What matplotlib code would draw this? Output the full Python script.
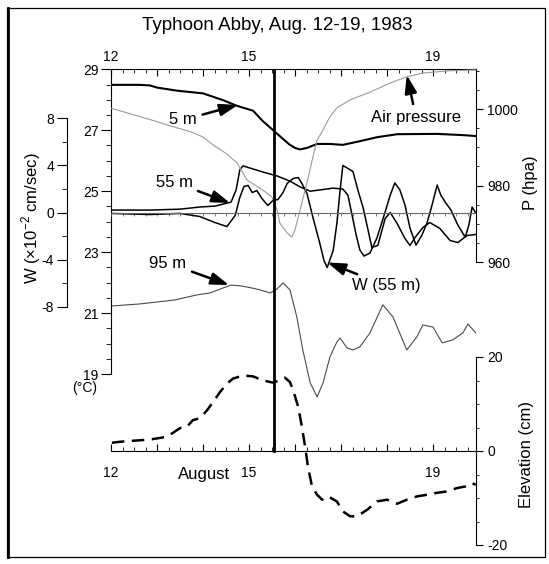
import numpy as np
import matplotlib.pyplot as plt
from matplotlib.patches import Rectangle
from matplotlib.lines import Line2D
from matplotlib.ticker import FixedLocator, FuncFormatter

plt.rcParams['font.family'] = 'Liberation Sans'
plt.rcParams['mathtext.fontset'] = 'custom'
plt.rcParams['mathtext.rm'] = 'Liberation Sans'
plt.rcParams['font.size'] = 10

# ---- data (day of August 1983) ----
t5_day = [12.00, 12.60, 12.85, 13.00, 13.43, 14.00, 14.43, 14.74, 15.09, 15.30, 15.57,
          15.75, 15.89, 16.00, 16.11, 16.26, 16.48, 16.76, 17.04, 17.35, 17.78, 18.22,
          19.09, 19.65, 19.93]
t5 = [28.49, 28.49, 28.47, 28.40, 28.30, 28.21, 27.99, 27.80, 27.64, 27.30, 26.94,
      26.70, 26.52, 26.42, 26.37, 26.42, 26.55, 26.55, 26.52, 26.62, 26.77, 26.87,
      26.88, 26.84, 26.81]

t55_day = [12.00, 12.85, 13.50, 13.93, 14.26, 14.61, 14.72, 14.80, 14.87, 15.02, 15.30,
           15.61, 15.89, 16.11, 16.33, 16.54, 16.83, 17.04, 17.15, 17.24, 17.33, 17.41,
           17.50, 17.63, 17.78, 17.96, 18.07, 18.17, 18.28, 18.39, 18.50, 18.63, 18.76,
           18.87, 18.98, 19.09, 19.17, 19.28, 19.39, 19.54, 19.70, 19.78, 19.85, 19.93]
t55 = [24.38, 24.38, 24.41, 24.48, 24.51, 24.64, 25.04, 25.70, 25.83, 25.76, 25.63,
       25.50, 25.33, 25.14, 25.00, 25.04, 25.10, 25.07, 24.87, 24.22, 23.56, 23.07,
       22.87, 22.97, 23.46, 24.32, 24.87, 25.27, 25.04, 24.55, 23.79, 23.23, 23.56,
       23.96, 24.55, 25.20, 24.87, 24.61, 24.38, 23.89, 23.49, 23.89, 24.48, 24.28]

t95_day = [12.00, 12.63, 13.39, 13.85, 14.15, 14.61, 14.83, 15.07, 15.24, 15.46, 15.61,
           15.74, 15.89, 16.04, 16.17, 16.33, 16.48, 16.61, 16.76, 16.91, 16.98, 17.13,
           17.26, 17.41, 17.63, 17.91, 18.13, 18.43, 18.65, 18.78, 19.00, 19.20, 19.43,
           19.65, 19.76, 19.93]
t95 = [21.23, 21.30, 21.43, 21.59, 21.66, 21.92, 21.89, 21.82, 21.76, 21.66, 21.79,
       21.99, 21.76, 20.87, 19.79, 18.71, 18.25, 18.71, 19.56, 20.05, 20.18, 19.86,
       19.79, 19.89, 20.35, 21.27, 20.87, 19.79, 20.22, 20.61, 20.54, 20.02, 20.12,
       20.35, 20.64, 20.35]

w_day = [12.00, 12.85, 13.50, 13.93, 14.26, 14.52, 14.70, 14.80, 14.89, 14.98, 15.07,
         15.17, 15.28, 15.41, 15.52, 15.63, 15.74, 15.83, 15.96, 16.07, 16.15, 16.26,
         16.39, 16.54, 16.63, 16.70, 16.83, 16.91, 16.98, 17.04, 17.15, 17.26, 17.37,
         17.48, 17.59, 17.67, 17.80, 17.96, 18.07, 18.22, 18.39, 18.50, 18.61, 18.78,
         18.93, 19.15, 19.37, 19.54, 19.74, 19.93]
w55 = [-0.08, -0.17, -0.08, -0.34, -0.85, -1.19, -0.25, 1.27, 2.20, 2.29, 1.69,
       1.86, 1.19, 0.59, 1.02, 1.10, 1.69, 2.46, 2.88, 2.96, 2.46, 1.61,
       -0.42, -2.62, -4.06, -4.66, -3.22, -0.93, 1.86, 3.98, 3.73, 3.47, 1.86,
       0.42, -1.52, -2.96, -2.79, -0.51, 0.00, -0.93, -2.20, -2.79, -2.12, -1.27,
       -0.85, -1.35, -2.37, -2.54, -1.95, -1.86]

p_day = [12.00, 12.26, 12.60, 13.00, 13.40, 13.72, 14.00, 14.22, 14.50, 14.74, 14.96,
         15.30, 15.50, 15.61, 15.67, 15.83, 15.93, 16.00, 16.11, 16.26, 16.39, 16.48,
         16.61, 16.75, 16.91, 17.20, 17.63, 18.07, 18.43, 18.78, 19.37, 19.93]
pres = [1000.2, 999.3, 998.1, 996.7, 995.2, 994.1, 992.7, 990.6, 988.4, 985.9, 981.4,
        978.8, 977.0, 973.6, 970.2, 967.6, 966.5, 968.4, 973.6, 980.7, 987.5, 991.9,
        994.5, 997.8, 1000.3, 1002.4, 1004.4, 1006.8, 1008.4, 1009.4, 1010.0, 1010.2]

e_day = [12.02, 12.20, 12.48, 12.70, 12.91, 13.22, 13.50, 13.65, 13.78, 13.93, 14.09,
         14.22, 14.37, 14.52, 14.65, 14.87, 15.09, 15.30, 15.52, 15.67, 15.78, 15.89,
         15.96, 16.07, 16.15, 16.22, 16.24, 16.28, 16.37, 16.48, 16.59, 16.72, 16.91,
         17.04, 17.20, 17.35, 17.57, 17.78, 18.00, 18.22, 18.43, 18.65, 18.87, 19.09,
         19.30, 19.52, 19.70, 19.85, 19.93]
elev = [1.76, 1.97, 2.18, 2.33, 2.54, 3.03, 4.87, 5.15, 6.56, 6.98, 8.68,
        10.43, 12.55, 14.33, 15.39, 16.08, 15.87, 15.03, 14.54, 15.03, 15.60, 14.67,
        12.91, 9.38, 5.14, 0.91, -0.42, -3.30, -7.55, -9.31, -10.37, -9.67, -10.73,
        -12.84, -13.90, -13.90, -12.49, -10.73, -10.37, -11.22, -10.37, -9.67, -9.31, -8.89,
        -8.61, -7.89, -7.55, -6.84, -7.20]

passage_day = 15.55

# ---- layout (pixels of the 549x564 picture) ----
W, H = 549, 564
L, R, TOP, BOT = 111, 476, 69.3, 560
fig = plt.figure(figsize=(W / 100, H / 100), dpi=100)
rect = [L / W, 1 - BOT / H, (R - L) / W, (BOT - TOP) / H]


def lims(v1, p1, v2, p2):
    s = (v2 - v1) / (p2 - p1)
    return v1 + (BOT - p1) * s, v1 + (TOP - p1) * s


xs = 7 / 322
xlim = (12 + (L - 111) * xs, 12 + (R - 111) * xs)


def mk():
    a = fig.add_axes(rect)
    a.patch.set_visible(False)
    for s in a.spines.values():
        s.set_visible(False)
    a.set_xlim(xlim)
    a.tick_params(which='both', left=False, right=False, top=False, bottom=False,
                  labelleft=False, labelright=False, labeltop=False, labelbottom=False)
    return a


day_major = FixedLocator(range(12, 20))
day_minor = FixedLocator(np.arange(12, 19.94, 0.25))
day_fmt = FuncFormatter(lambda v, p: str(int(round(v))) if int(round(v)) in (12, 15, 19) else '')

# temperature
axT = mk()
axT.set_ylim(lims(29, 69.3, 19, 374))
axT.spines['left'].set_visible(True)
axT.spines['left'].set_bounds(19, 29)
axT.spines['top'].set_visible(True)
axT.yaxis.set_major_locator(FixedLocator(range(19, 30, 2)))
axT.yaxis.set_minor_locator(FixedLocator(np.arange(19, 29.01, 0.5)))
axT.tick_params(axis='y', which='both', left=True, labelleft=True, direction='out')
axT.tick_params(axis='y', which='major', length=7, labelsize=10, pad=2)
axT.tick_params(axis='y', which='minor', length=3.5)
axT.xaxis.set_major_locator(day_major)
axT.xaxis.set_minor_locator(day_minor)
axT.xaxis.set_major_formatter(day_fmt)
axT.tick_params(axis='x', which='both', top=True, labeltop=True, direction='in')
axT.tick_params(axis='x', which='major', length=5, labelsize=10, pad=4)
axT.tick_params(axis='x', which='minor', length=3)

# vertical velocity
axW = mk()
axW.set_ylim(lims(8, 118, -8, 307))
axW.spines['left'].set_visible(True)
axW.spines['left'].set_position(('axes', (66.7 - L) / (R - L)))
axW.spines['left'].set_bounds(-8, 8)
axW.yaxis.set_major_locator(FixedLocator([-8, -4, 0, 4, 8]))
axW.yaxis.set_minor_locator(FixedLocator([-6, -2, 2, 6]))
axW.yaxis.set_major_formatter(FuncFormatter(lambda v, p: '%d' % v))
axW.tick_params(axis='y', which='both', left=True, labelleft=True, direction='out')
axW.tick_params(axis='y', which='major', length=7, labelsize=10, pad=2)
axW.tick_params(axis='y', which='minor', length=3.5)
axW.spines['bottom'].set_visible(True)
axW.spines['bottom'].set_position(('data', 0))
axW.spines['bottom'].set_color('#666666')
axW.spines['bottom'].set_linewidth(0.8)
axW.xaxis.set_major_locator(day_minor)
axW.tick_params(axis='x', which='major', bottom=True, direction='out', length=2.5,
                width=0.6, color='#666666')

# air pressure
axP = mk()
plim = lims(1000, 109, 960, 262)
axP.set_ylim(plim)
axP.spines['right'].set_visible(True)
axP.spines['right'].set_bounds(960, plim[1])
axP.yaxis.set_major_locator(FixedLocator([960, 980, 1000]))
axP.yaxis.set_minor_locator(FixedLocator([965, 970, 975, 985, 990, 995, 1005, 1010]))
axP.tick_params(axis='y', which='both', right=True, labelright=True, direction='out')
axP.tick_params(axis='y', which='major', length=5, labelsize=10, pad=3)
axP.tick_params(axis='y', which='minor', length=2.5)

# sea level elevation
axE = mk()
elim = lims(0, 451, 20, 357)
axE.set_ylim(elim)
axE.spines['right'].set_visible(True)
axE.spines['right'].set_bounds(-20, 20)
axE.yaxis.set_major_locator(FixedLocator([-20, 0, 20]))
axE.yaxis.set_minor_locator(FixedLocator([-15, -10, -5, 5, 10, 15]))
axE.yaxis.set_major_formatter(FuncFormatter(lambda v, p: '%d' % v))
axE.tick_params(axis='y', which='both', right=True, labelright=True, direction='out')
axE.tick_params(axis='y', which='major', length=5, labelsize=10, pad=3)
axE.tick_params(axis='y', which='minor', length=2.5)
axE.spines['bottom'].set_visible(True)
axE.spines['bottom'].set_position(('data', 0))
axE.xaxis.set_major_locator(day_major)
axE.xaxis.set_minor_locator(day_minor)
axE.xaxis.set_major_formatter(day_fmt)
axE.tick_params(axis='x', which='both', bottom=True, labelbottom=True, direction='in')
axE.tick_params(axis='x', which='major', length=5, labelsize=10, pad=11)
axE.tick_params(axis='x', which='minor', length=3)

# ---- curves ----
axP.plot(p_day, pres, color='#9a9a9a', lw=0.8)
axT.plot(t95_day, t95, color='#4a4a4a', lw=0.8)
axT.plot(t5_day, t5, color='k', lw=1.5)
axT.plot(t55_day, t55, color='k', lw=1.1)
axW.plot(w_day, w55, color='k', lw=1.1)
axE.plot(e_day, elev, color='k', lw=1.8, dashes=(5, 3))
axE.axvline(passage_day, ymin=(0 - elim[0]) / (elim[1] - elim[0]), ymax=1, color='k', lw=2)

# ---- annotations ----
arw = dict(arrowstyle='-|>,head_length=0.9,head_width=0.3', lw=1.8, color='k',
           shrinkA=2, shrinkB=0)
axT.annotate('5 m', xy=(14.76, 27.83), xytext=(13.57, 27.34), arrowprops=arw,
             ha='center', va='center', fontsize=12)
axT.annotate('55 m', xy=(14.59, 24.61), xytext=(13.37, 25.30), arrowprops=arw,
             ha='center', va='center', fontsize=12)
axT.annotate('95 m', xy=(14.57, 21.92), xytext=(13.24, 22.64), arrowprops=arw,
             ha='center', va='center', fontsize=12)
axP.annotate('Air pressure', xy=(18.43, 1008.9), xytext=(18.63, 997.9), arrowprops=arw,
             ha='center', va='center', fontsize=12)
axW.annotate('W (55 m)', xy=(16.70, -4.23), xytext=(17.98, -6.18), arrowprops=arw,
             ha='center', va='center', fontsize=12)


def fx(x):
    return x / W


def fy(y):
    return 1 - y / H


fig.text(fx(277), fy(26), 'Typhoon Abby, Aug. 12-19, 1983', ha='center', va='center',
         fontsize=13.5)
fig.text(fx(85), fy(388), '(°C)', ha='center', va='center', fontsize=10)
fig.text(fx(204), fy(474), 'August', ha='center', va='center', fontsize=12)
fig.text(fx(31), fy(218), r'W ($\times$10$^{-2}$ cm/sec)', rotation=90, ha='center',
         va='center', fontsize=12)
fig.text(fx(530), fy(183), 'P (hpa)', rotation=90, ha='center', va='center', fontsize=12)
fig.text(fx(527), fy(455), 'Elevation (cm)', rotation=90, ha='center', va='center',
         fontsize=12)

# scanned page frame
fig.add_artist(Rectangle((fx(7), fy(557)), (545 - 7) / W, (557 - 8) / H,
                         transform=fig.transFigure, fill=False, lw=0.9, ec='k'))
fig.add_artist(Line2D([fx(8), fx(8)], [fy(8), fy(557)], transform=fig.transFigure,
                      lw=2, color='k'))

fig.savefig('out.png', dpi=100)
